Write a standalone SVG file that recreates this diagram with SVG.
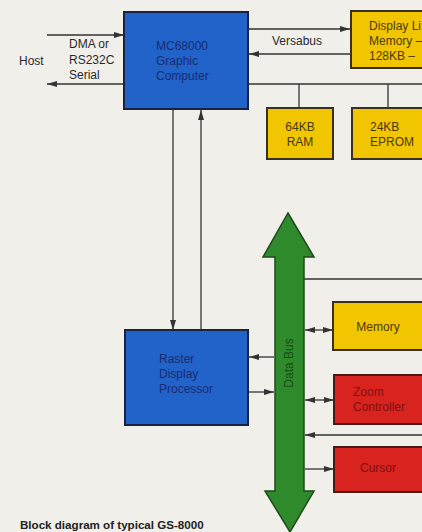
<svg xmlns="http://www.w3.org/2000/svg" width="422" height="532" viewBox="0 0 422 532">
<defs>
<style>
.t{font-family:"Liberation Sans",Arial,sans-serif;font-size:12px;fill:#2a2a2a}
.bt{font-family:"Liberation Sans",Arial,sans-serif;font-size:12px;fill:#1a2b70}
.yt{font-family:"Liberation Sans",Arial,sans-serif;font-size:12px;fill:#4a3a10}
.rt{font-family:"Liberation Sans",Arial,sans-serif;font-size:12px;fill:#7e1212}
.blue{fill:#2163c9;stroke:#17233f;stroke-width:2}
.yel{fill:#f1c500;stroke:#3a3020;stroke-width:2}
.red{fill:#d8231f;stroke:#4a1a14;stroke-width:2}
.ln{stroke:#333;stroke-width:1.3;fill:none}
</style>
<marker id="ah" viewBox="0 0 10 6" refX="10" refY="3" markerWidth="10" markerHeight="6" markerUnits="userSpaceOnUse" orient="auto-start-reverse">
<path d="M0,0 L10,3 L0,6 Z" fill="#333"/>
</marker>
</defs>
<rect width="422" height="532" fill="#f1efea"/>

<g id="connectors">
<line class="ln" x1="47" y1="35" x2="124" y2="35" marker-end="url(#ah)"/>
<line class="ln" x1="124" y1="84" x2="47" y2="84" marker-end="url(#ah)"/>
<line class="ln" x1="249" y1="29" x2="350" y2="29" marker-end="url(#ah)"/>
<line class="ln" x1="350" y1="54" x2="249" y2="54" marker-end="url(#ah)"/>
<line class="ln" x1="249" y1="84" x2="422" y2="84"/>
<line class="ln" x1="299" y1="84" x2="299" y2="108"/>
<line class="ln" x1="388" y1="84" x2="388" y2="108"/>
<line class="ln" x1="173" y1="110" x2="173" y2="330" marker-end="url(#ah)"/>
<line class="ln" x1="201" y1="330" x2="201" y2="110" marker-end="url(#ah)"/>
<line class="ln" x1="274" y1="357" x2="249" y2="357" marker-end="url(#ah)"/>
<line class="ln" x1="249" y1="392" x2="274" y2="392" marker-end="url(#ah)"/>
<line class="ln" x1="304" y1="279" x2="422" y2="279"/>
<line class="ln" x1="305" y1="330" x2="333" y2="330" marker-start="url(#ah)" marker-end="url(#ah)"/>
<line class="ln" x1="305" y1="400" x2="334" y2="400" marker-start="url(#ah)" marker-end="url(#ah)"/>
<line class="ln" x1="422" y1="435" x2="305" y2="435" marker-end="url(#ah)"/>
<line class="ln" x1="305" y1="469" x2="334" y2="469" marker-end="url(#ah)"/>
</g>

<g id="host">
<text class="t" x="19" y="65">Host</text>
<text class="t" x="69" y="48">DMA or</text>
<text class="t" x="69" y="64">RS232C</text>
<text class="t" x="69" y="79">Serial</text>
</g>
<g id="versabus-label">
<text class="t" x="272" y="45">Versabus</text>
</g>

<g id="mc68000">
<rect class="blue" x="124" y="12" width="124" height="97"/>
<text class="bt" x="156" y="50">MC68000</text>
<text class="bt" x="156" y="65">Graphic</text>
<text class="bt" x="156" y="80">Computer</text>
</g>

<g id="display-list-memory">
<rect class="yel" x="351" y="11" width="80" height="57"/>
<text class="yt" x="369" y="30">Display Li</text>
<text class="yt" x="369" y="45">Memory –</text>
<text class="yt" x="369" y="60">128KB –</text>
</g>

<g id="ram">
<rect class="yel" x="267" y="108" width="66" height="51"/>
<text class="yt" x="300" y="131" text-anchor="middle">64KB</text>
<text class="yt" x="300" y="146" text-anchor="middle">RAM</text>
</g>

<g id="eprom">
<rect class="yel" x="352" y="108" width="80" height="51"/>
<text class="yt" x="370" y="131">24KB</text>
<text class="yt" x="370" y="146">EPROM</text>
</g>

<g id="raster">
<rect class="blue" x="125" y="330" width="123" height="95"/>
<text class="bt" x="159" y="363">Raster</text>
<text class="bt" x="159" y="378">Display</text>
<text class="bt" x="159" y="393">Processor</text>
</g>

<g id="data-bus">
<path d="M288,213 L314,257 L304,257 L304,491 L314,491 L290,532 L265,491 L275,491 L275,257 L263,257 Z" fill="#2f8a2c" stroke="#1e4a1a" stroke-width="1.5"/>
<text x="0" y="0" transform="translate(293,363) rotate(-90)" text-anchor="middle" style="font-family:'Liberation Sans',Arial,sans-serif;font-size:12px;fill:#174a16">Data Bus</text>
</g>

<g id="memory">
<rect class="yel" x="333" y="302" width="100" height="48"/>
<text class="yt" x="378" y="331" text-anchor="middle">Memory</text>
</g>

<g id="zoom-controller">
<rect class="red" x="334" y="375" width="100" height="49"/>
<text class="rt" x="353" y="396">Zoom</text>
<text class="rt" x="353" y="411">Controller</text>
</g>

<g id="cursor">
<rect class="red" x="334" y="447" width="100" height="45"/>
<text class="rt" x="378" y="472" text-anchor="middle">Cursor</text>
</g>

<g id="caption">
<text x="20" y="529" style="font-family:'Liberation Sans',Arial,sans-serif;font-size:11.6px;font-weight:bold;fill:#222">Block diagram of typical GS-8000</text>
</g>
</svg>
